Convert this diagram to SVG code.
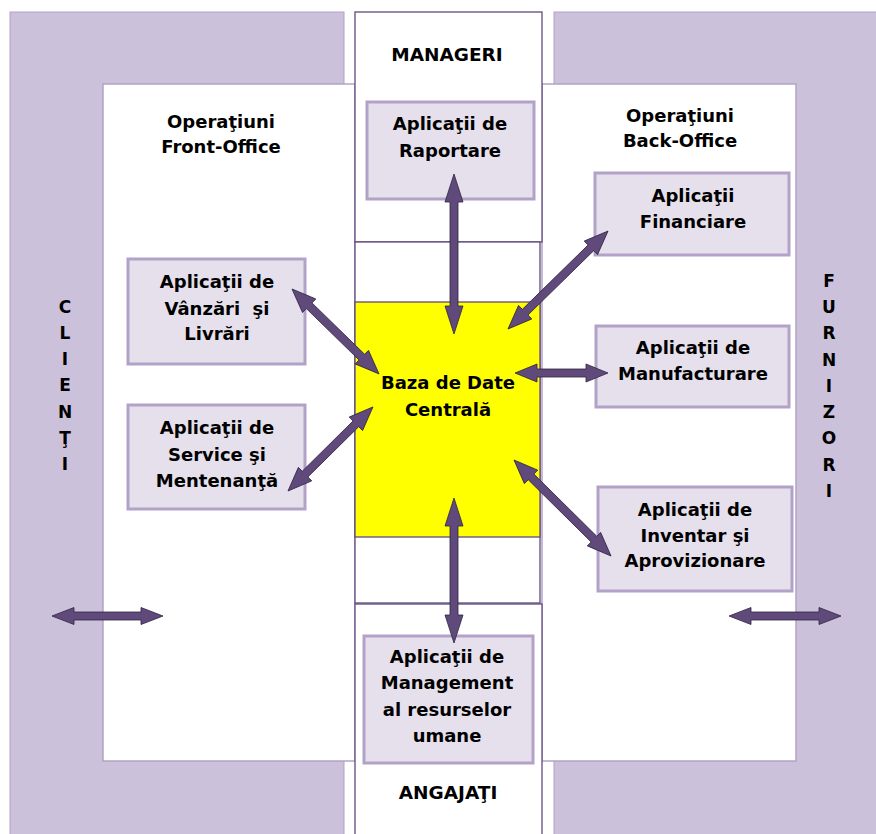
<svg xmlns="http://www.w3.org/2000/svg" width="876" height="834" viewBox="0 0 876 834">
  <style>
    .block { fill: #ccc1da; stroke: #b3a2c7; stroke-width: 1; }
    .panel { fill: #ffffff; stroke: #b3a2c7; stroke-width: 1.5; }
    .col { fill: #ffffff; stroke: #604a7b; stroke-width: 1.3; }
    .db { fill: #ffff00; stroke: #604a7b; stroke-width: 1.3; }
    .node { fill: #e5e0ec; stroke: #b3a2c7; stroke-width: 3; }
    .arrow { fill: #604a7b; stroke: #2e2440; stroke-width: 0.8; stroke-linejoin: miter; }
    text { font-family: "DejaVu Sans", Verdana, sans-serif; font-weight: bold; font-size: 18px; fill: #000; text-anchor: middle; }
    .big { font-size: 18.5px; }
    .side { font-size: 17px; }
  </style>

  <!-- outer actor bands -->
  <g id="clienti">
    <rect class="block" x="10" y="12" width="334" height="830"/>
    <text class="side" x="65" y="313">C</text>
    <text class="side" x="65" y="339">L</text>
    <text class="side" x="65" y="365">I</text>
    <text class="side" x="65" y="391">E</text>
    <text class="side" x="65" y="418">N</text>
    <text class="side" x="65" y="444">Ţ</text>
    <text class="side" x="65" y="470">I</text>
  </g>
  <g id="furnizori">
    <rect class="block" x="554" y="12" width="330" height="830"/>
    <text class="side" x="829" y="287">F</text>
    <text class="side" x="829" y="313">U</text>
    <text class="side" x="829" y="339">R</text>
    <text class="side" x="829" y="366">N</text>
    <text class="side" x="829" y="392">I</text>
    <text class="side" x="829" y="418">Z</text>
    <text class="side" x="829" y="444">O</text>
    <text class="side" x="829" y="471">R</text>
    <text class="side" x="829" y="497">I</text>
  </g>

  <!-- operation panels -->
  <g id="front-office">
    <rect class="panel" x="103" y="84" width="252" height="677"/>
    <text x="221" y="128">Operaţiuni</text>
    <text x="221" y="153">Front-Office</text>
  </g>
  <g id="back-office">
    <rect class="panel" x="542" y="84" width="254" height="677"/>
    <text x="680" y="122">Operaţiuni</text>
    <text x="680" y="147">Back-Office</text>
  </g>

  <!-- central column -->
  <g id="manageri">
    <rect class="col" x="355" y="12" width="187" height="230"/>
    <text class="big" x="447" y="61">MANAGERI</text>
  </g>
  <g id="baza-de-date">
    <rect class="col" x="355" y="242" width="185" height="361"/>
    <rect class="db" x="355" y="302" width="185" height="235"/>
    <text x="448" y="389">Baza de Date</text>
    <text x="448" y="416">Centrală</text>
  </g>
  <g id="angajati">
    <rect class="col" x="355" y="604" width="187" height="240"/>
    <text class="big" x="448" y="799">ANGAJAŢI</text>
  </g>

  <!-- application modules -->
  <g id="raportare">
    <rect class="node" x="367" y="102" width="167" height="97"/>
    <text x="450" y="130">Aplicaţii de</text>
    <text x="450" y="157">Raportare</text>
  </g>
  <g id="financiare">
    <rect class="node" x="595" y="173" width="194" height="82"/>
    <text x="693" y="202">Aplicaţii</text>
    <text x="693" y="228">Financiare</text>
  </g>
  <g id="vanzari">
    <rect class="node" x="128" y="259" width="177" height="105"/>
    <text x="217" y="288">Aplicaţii de</text>
    <text x="217" y="315" xml:space="preserve">Vânzări  şi</text>
    <text x="217" y="340">Livrări</text>
  </g>
  <g id="service">
    <rect class="node" x="128" y="405" width="177" height="104"/>
    <text x="217" y="434">Aplicaţii de</text>
    <text x="217" y="461">Service şi</text>
    <text x="217" y="487">Mentenanţă</text>
  </g>
  <g id="manufacturare">
    <rect class="node" x="596" y="326" width="193" height="81"/>
    <text x="693" y="354">Aplicaţii de</text>
    <text x="693" y="380">Manufacturare</text>
  </g>
  <g id="inventar">
    <rect class="node" x="598" y="487" width="194" height="104"/>
    <text x="695" y="516">Aplicaţii de</text>
    <text x="695" y="542">Inventar şi</text>
    <text x="695" y="567">Aprovizionare</text>
  </g>
  <g id="resurse-umane">
    <rect class="node" x="364" y="636" width="169" height="127"/>
    <text x="447" y="663">Aplicaţii de</text>
    <text x="447" y="689">Management</text>
    <text x="447" y="716">al resurselor</text>
    <text x="447" y="742">umane</text>
  </g>

  <!-- double-headed block connectors, drawn along +x then placed -->
  <g id="connectors">
    <polygon class="arrow" transform="translate(454,174) rotate(90)" points="0,0 28,-9 28,-4 132,-4 132,-9 160,0 132,9 132,4 28,4 28,9"/>
    <polygon class="arrow" transform="translate(508,329) rotate(-44.4)" points="0,0 24,-9.5 24,-4 116,-4 116,-9.5 140,0 116,9.5 116,4 24,4 24,9.5"/>
    <polygon class="arrow" transform="translate(292,289) rotate(44.3)" points="0,0 24,-9.5 24,-4 97.6,-4 97.6,-9.5 121.6,0 97.6,9.5 97.6,4 24,4 24,9.5"/>
    <polygon class="arrow" transform="translate(288,491) rotate(-44.7)" points="0,0 24,-9.5 24,-4 95.5,-4 95.5,-9.5 119.5,0 95.5,9.5 95.5,4 24,4 24,9.5"/>
    <polygon class="arrow" transform="translate(515,373)" points="0,0 22,-9 22,-4 71,-4 71,-9 93,0 71,9 71,4 22,4 22,9"/>
    <polygon class="arrow" transform="translate(514,460) rotate(44.7)" points="0,0 24,-9.5 24,-4 112.5,-4 112.5,-9.5 136.5,0 112.5,9.5 112.5,4 24,4 24,9.5"/>
    <polygon class="arrow" transform="translate(454,498) rotate(90)" points="0,0 28,-9 28,-4 117,-4 117,-9 145,0 117,9 117,4 28,4 28,9"/>
    <polygon class="arrow" transform="translate(52,616)" points="0,0 22,-8.5 22,-4 89,-4 89,-8.5 111,0 89,8.5 89,4 22,4 22,8.5"/>
    <polygon class="arrow" transform="translate(729,616)" points="0,0 22,-8.5 22,-4 90,-4 90,-8.5 112,0 90,8.5 90,4 22,4 22,8.5"/>
  </g>
</svg>
